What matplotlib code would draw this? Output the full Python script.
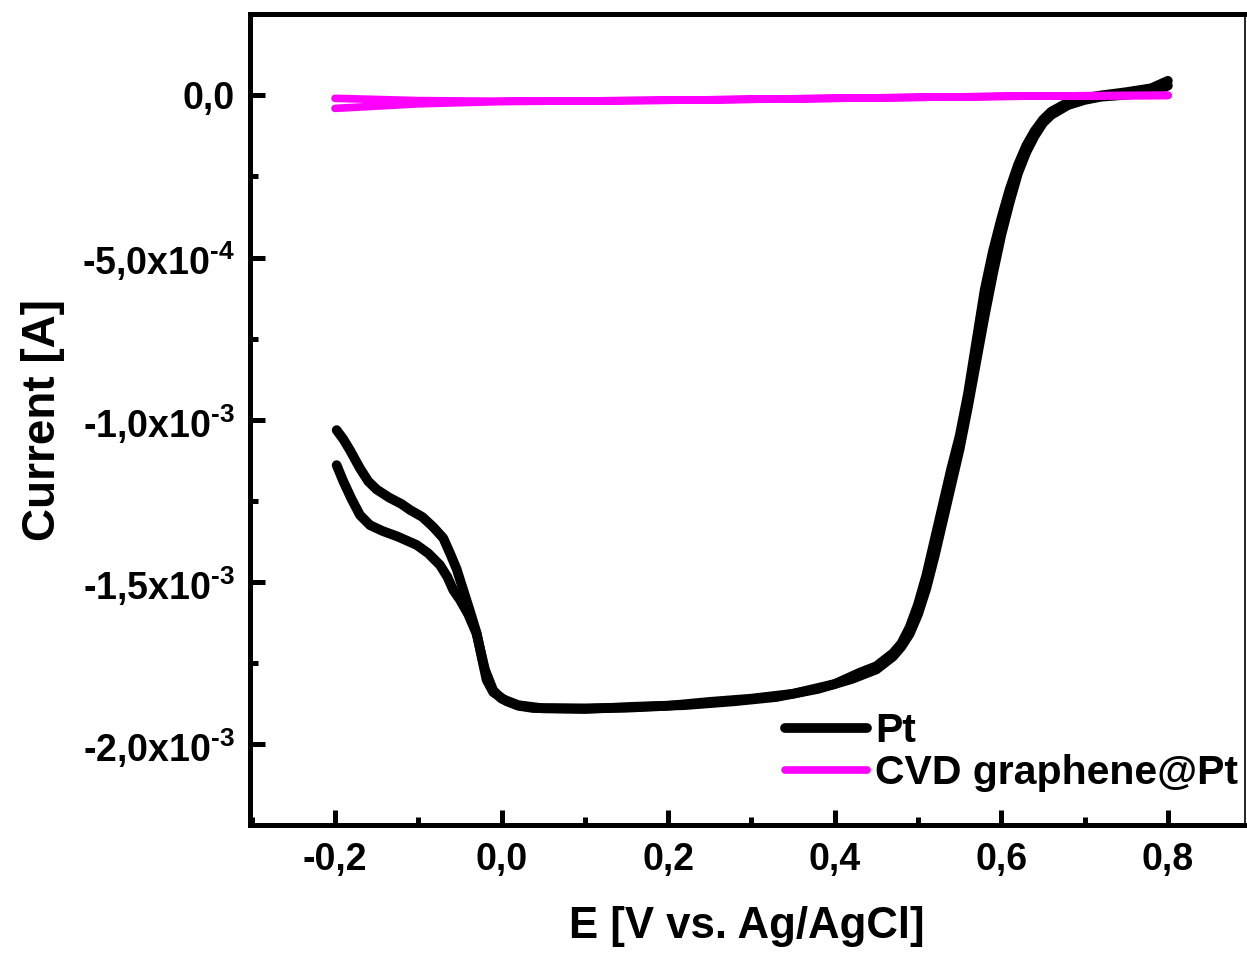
import matplotlib
matplotlib.use('Agg')
import matplotlib.pyplot as plt
from matplotlib.ticker import AutoMinorLocator

plt.rcParams['font.family'] = 'Liberation Sans'
plt.rcParams['font.weight'] = 'bold'
plt.rcParams['mathtext.fontset'] = 'custom'
plt.rcParams['mathtext.rm'] = 'Liberation Sans:bold'
plt.rcParams['mathtext.default'] = 'rm'

# Pt, first branch (upper one at the left end)
pt_e1 = [-0.198, -0.190, -0.182, -0.170, -0.160, -0.150, -0.135, -0.120, -0.110, -0.095,
         -0.082, -0.070, -0.062, -0.054, -0.046, -0.038, -0.030, -0.024, -0.018, -0.010,
         0.0, 0.006, 0.020, 0.038, 0.10, 0.15, 0.20, 0.25, 0.30, 0.35, 0.40, 0.43, 0.45,
         0.47, 0.48, 0.49, 0.50, 0.51, 0.52, 0.53, 0.54, 0.55, 0.56, 0.57, 0.58, 0.59,
         0.60, 0.61, 0.62, 0.63, 0.64, 0.65, 0.66, 0.68, 0.70, 0.72, 0.75, 0.78, 0.80]
pt_i1 = [-1.032e-3, -1.060e-3, -1.094e-3, -1.150e-3, -1.190e-3, -1.215e-3, -1.240e-3,
         -1.260e-3, -1.278e-3, -1.300e-3, -1.331e-3, -1.365e-3, -1.411e-3, -1.460e-3,
         -1.525e-3, -1.590e-3, -1.657e-3, -1.730e-3, -1.802e-3, -1.840e-3, -1.858e-3,
         -1.868e-3, -1.882e-3, -1.889e-3, -1.890e-3, -1.888e-3, -1.882e-3, -1.870e-3,
         -1.860e-3, -1.845e-3, -1.815e-3, -1.780e-3, -1.760e-3, -1.720e-3, -1.690e-3,
         -1.640e-3, -1.570e-3, -1.480e-3, -1.370e-3, -1.260e-3, -1.150e-3, -1.050e-3,
         -9.2e-4, -7.6e-4, -6.0e-4, -4.8e-4, -3.8e-4, -2.9e-4, -2.15e-4, -1.55e-4,
         -1.1e-4, -7.5e-5, -5.0e-5, -2.2e-5, -8e-6, 0.0, 1.0e-5, 2.2e-5, 4.5e-5]

# Pt, second branch (lower one at the left end)
pt_e2 = [0.80, 0.78, 0.75, 0.72, 0.70, 0.68, 0.66, 0.65, 0.64, 0.63, 0.62, 0.61, 0.60,
         0.59, 0.58, 0.57, 0.56, 0.55, 0.54, 0.53, 0.52, 0.51, 0.50, 0.49, 0.48, 0.47,
         0.45, 0.42, 0.38, 0.33, 0.28, 0.22, 0.16, 0.10, 0.05, 0.02, 0.0, -0.010,
         -0.020, -0.030, -0.040, -0.050, -0.058, -0.065, -0.074, -0.088, -0.102, -0.125,
         -0.143, -0.158, -0.170, -0.180, -0.190, -0.198]
pt_i2 = [3.0e-5, 1.0e-5, 2e-6, -4e-6, -1.4e-5, -3.0e-5, -6.0e-5, -8.5e-5, -1.25e-4,
         -1.75e-4, -2.4e-4, -3.3e-4, -4.3e-4, -5.5e-4, -6.8e-4, -8.2e-4, -9.6e-4,
         -1.09e-3, -1.20e-3, -1.31e-3, -1.42e-3, -1.52e-3, -1.60e-3, -1.66e-3,
         -1.70e-3, -1.73e-3, -1.77e-3, -1.80e-3, -1.83e-3, -1.855e-3, -1.868e-3,
         -1.880e-3, -1.885e-3, -1.892e-3, -1.890e-3, -1.880e-3, -1.860e-3, -1.835e-3,
         -1.770e-3, -1.660e-3, -1.600e-3, -1.555e-3, -1.525e-3, -1.485e-3, -1.448e-3,
         -1.412e-3, -1.386e-3, -1.360e-3, -1.343e-3, -1.325e-3, -1.294e-3, -1.245e-3,
         -1.190e-3, -1.140e-3]

# CVD graphene@Pt
gr_e = [-0.200, -0.10, 0.0, 0.10, 0.20, 0.30, 0.40, 0.50, 0.60, 0.70, 0.80,
        0.70, 0.60, 0.50, 0.40, 0.30, 0.20, 0.10, 0.0, -0.10, -0.20]
gr_i = [-9e-6, -1.6e-5, -1.8e-5, -1.7e-5, -1.5e-5, -1.2e-5, -9e-6, -6e-6, -3e-6,
        -1e-6, 0.0, -1e-6, -3e-6, -6e-6, -9e-6, -1.2e-5, -1.5e-5, -1.7e-5, -1.9e-5,
        -2.6e-5, -4.0e-5]

x_ticks = [-0.2, 0.0, 0.2, 0.4, 0.6, 0.8]
x_labels = ['-0,2', '0,0', '0,2', '0,4', '0,6', '0,8']
y_ticks = [0.0, -5e-4, -1e-3, -1.5e-3, -2e-3]
y_labels = ['0,0', r'-5,0x10$^{\text{-4}}$', r'-1,0x10$^{\text{-3}}$',
            r'-1,5x10$^{\text{-3}}$', r'-2,0x10$^{\text{-3}}$']

fig = plt.figure(figsize=(12.47, 9.55), dpi=100)
ax = fig.add_axes([0.2005, 0.136, 0.7975, 0.849])

ax.plot(pt_e1, pt_i1, color='black', lw=7, solid_capstyle='round', solid_joinstyle='round', label='Pt')
ax.plot(pt_e2, pt_i2, color='black', lw=7, solid_capstyle='round', solid_joinstyle='round')
ax.plot(gr_e, gr_i, color='#ff00ff', lw=5.5, solid_capstyle='round', solid_joinstyle='round',
        label='CVD graphene@Pt')

ax.set_xlim(-0.302, 0.892)
ax.set_ylim(-2.25e-3, 2.5e-4)
ax.set_xticks(x_ticks, x_labels)
ax.set_yticks(y_ticks, y_labels)
ax.xaxis.set_minor_locator(AutoMinorLocator(2))
ax.yaxis.set_minor_locator(AutoMinorLocator(2))
ax.tick_params(which='both', direction='in', top=False, right=False, labelsize=27)
ax.tick_params(axis='x', pad=12)
ax.tick_params(axis='y', pad=11)
ax.tick_params(which='major', length=11, width=3.6)
ax.tick_params(which='minor', length=6, width=3.6)

for s in ['left', 'bottom', 'top']:
    ax.spines[s].set_linewidth(3.6)
ax.spines['right'].set_linewidth(1.2)

ax.set_xlabel('E [V vs. Ag/AgCl]', fontsize=31.5, fontweight='bold', labelpad=20)
ax.set_ylabel('Current [A]', fontsize=33, fontweight='bold', labelpad=12)

ax.legend(loc='lower right', bbox_to_anchor=(1.014, 0.015), frameon=False, fontsize=29.5,
          handlelength=2.0, handletextpad=0.2, labelspacing=0.1, borderaxespad=0.1)

fig.savefig('out.png', dpi=100)
